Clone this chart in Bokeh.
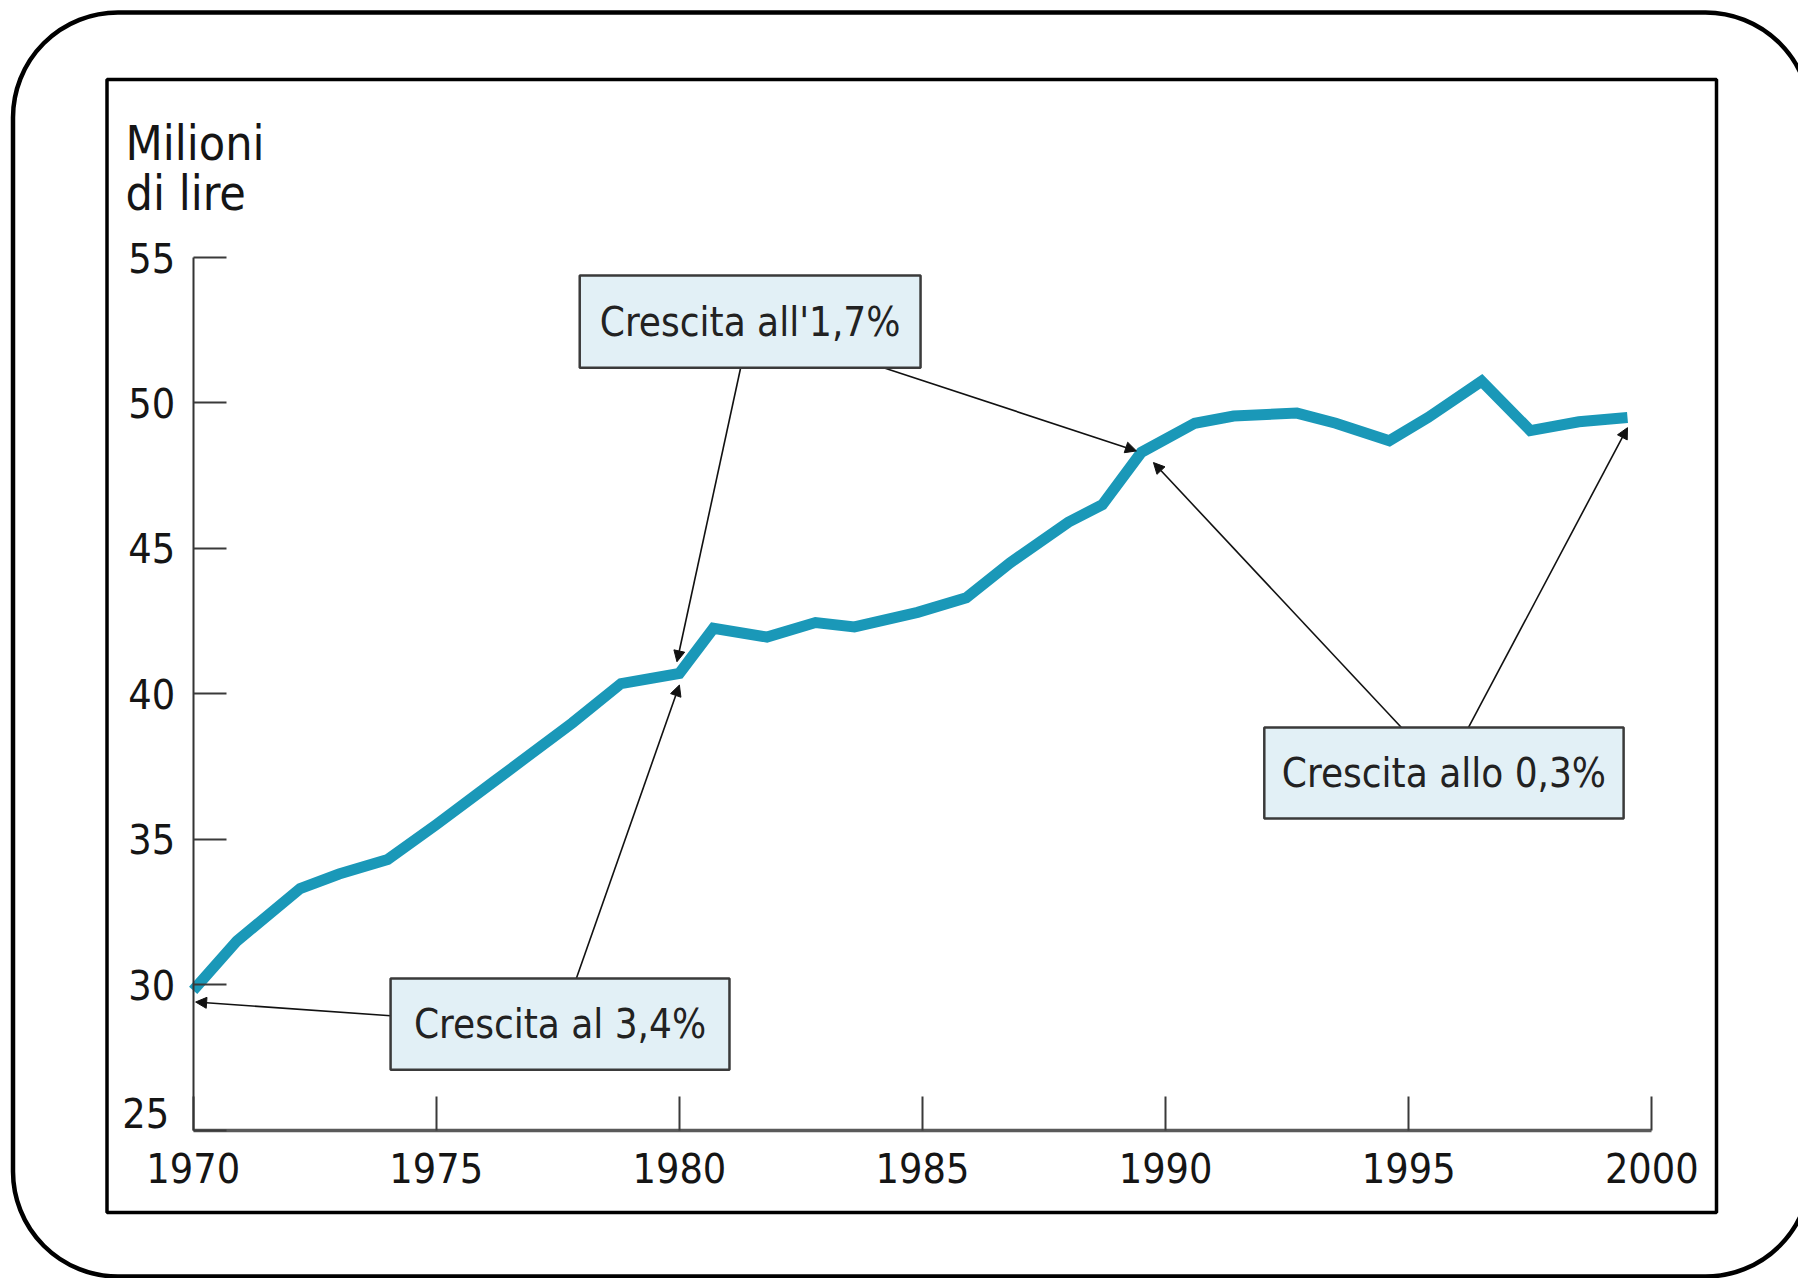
from bokeh.plotting import figure
from bokeh.models import (Range1d, BoxAnnotation, Label, Arrow, NormalHead,
                          FixedTicker, LinearAxis)
from bokeh.embed import file_html
from bokeh.resources import INLINE

# ---- data ----
years = [1970.0, 1970.9, 1972.2, 1973.0, 1974.0, 1975.0, 1976.2, 1977.8, 1978.8, 1980.0,
         1980.7, 1981.8, 1982.8, 1983.6, 1984.9, 1985.9, 1986.8, 1988.0, 1988.7, 1989.5,
         1990.6, 1991.4, 1992.7, 1993.5, 1994.6, 1995.4, 1996.5, 1997.5, 1998.5, 1999.5]
values = [29.8, 31.5, 33.3, 33.8, 34.3, 35.5, 37.0, 39.0, 40.35, 40.7,
          42.25, 41.95, 42.45, 42.3, 42.8, 43.3, 44.5, 45.9, 46.5, 48.3,
          49.3, 49.55, 49.65, 49.3, 48.7, 49.5, 50.75, 49.05, 49.35, 49.5]

x_ticks = [1970, 1975, 1980, 1985, 1990, 1995, 2000]
y_ticks = [25, 30, 35, 40, 45, 50, 55]
y_title = ["Milioni", "di lire"]

note_texts = ["Crescita all'1,7%", "Crescita al 3,4%", "Crescita allo 0,3%"]

# annotation layout (data coordinates)
note_boxes = [  # left, right, bottom, top
    (1977.95, 1984.96, 51.21, 54.38),
    (1974.06, 1981.03, 27.07, 30.21),
    (1992.03, 1999.42, 35.71, 38.84),
]
note_arrows = [  # x_start, y_start, x_end, y_end
    (1981.26, 51.21, 1979.95, 41.1),
    (1984.20, 51.21, 1989.40, 48.35),
    (1977.88, 30.21, 1980.00, 40.3),
    (1974.06, 28.93, 1970.05, 29.4),
    (1994.85, 38.84, 1989.75, 47.95),
    (1996.23, 38.84, 1999.50, 49.15),
]

FONT = "DejaVu Sans Condensed, Roboto, sans-serif"
LINE_COLOR = "#1a98b8"
W, H = 1798, 1278

# the plot frame fills the whole canvas; axes are pinned at 1970 / 25
p = figure(width=W, height=H,
           x_range=Range1d(1966.037, 2003.017), y_range=Range1d(19.894, 63.837),
           output_backend="svg", toolbar_location=None,
           min_border=0, min_border_left=0, min_border_right=0,
           min_border_top=0, min_border_bottom=0)
p.title.visible = False
p.background_fill_color = "white"
p.border_fill_color = "white"
p.outline_line_color = None
p.grid.visible = False

xa = p.xaxis[0]
ya = p.yaxis[0]
xa.fixed_location = y_ticks[0]
ya.fixed_location = x_ticks[0]
xa.bounds = (x_ticks[0], x_ticks[-1])
ya.bounds = (y_ticks[0], y_ticks[-1])
xa.ticker = FixedTicker(ticks=x_ticks)
ya.ticker = FixedTicker(ticks=y_ticks)
ya.major_label_overrides = {y_ticks[0]: ""}
for ax in (xa, ya):
    ax.major_label_text_font = FONT
    ax.major_label_text_font_size = "41px"
    ax.major_label_text_color = "#151515"
    ax.minor_tick_line_color = None
    ax.major_tick_out = 0
    ax.major_tick_line_color = "#3a3a3a"
    ax.major_tick_line_width = 2
xa.major_tick_in = 34
ya.major_tick_in = 33
xa.axis_line_color = "#5a5a5a"
xa.axis_line_width = 3.5
ya.axis_line_color = "#333333"
ya.axis_line_width = 2
xa.major_label_standoff = 23
ya.major_label_standoff = 18

# the lowest y label is lifted just above the x axis (as in the original)
LOW_LABEL_LIFT = 0.6
ya_low = LinearAxis(fixed_location=x_ticks[0],
                    ticker=FixedTicker(ticks=[y_ticks[0] + LOW_LABEL_LIFT]),
                    major_label_overrides={y_ticks[0] + LOW_LABEL_LIFT: str(y_ticks[0])},
                    axis_line_color=None, major_tick_line_color=None,
                    minor_tick_line_color=None,
                    major_label_text_font=FONT, major_label_text_font_size="41px",
                    major_label_text_color="#151515",
                    major_label_standoff=18)
p.add_layout(ya_low, "left")


def sy(row):
    """pixel row (from top) -> screen units (from bottom of frame)"""
    return H - row


# decorative frames
outer = BoxAnnotation(left=12.5, right=1810, top=sy(12), bottom=sy(1276),
                      left_units="screen", right_units="screen",
                      top_units="screen", bottom_units="screen",
                      fill_alpha=0, fill_color=None,
                      line_color="black", line_width=4.5, line_alpha=1,
                      border_radius=105, level="underlay")
inner = BoxAnnotation(left=106.5, right=1716, top=sy(79), bottom=sy(1212),
                      left_units="screen", right_units="screen",
                      top_units="screen", bottom_units="screen",
                      fill_alpha=0, fill_color=None,
                      line_color="black", line_width=3.5, line_alpha=1,
                      level="underlay")
p.add_layout(outer)
p.add_layout(inner)

# y title
for i, t in enumerate(y_title):
    p.add_layout(Label(x=125, y=sy(142 + 50 * i), x_units="screen", y_units="screen",
                       text=t, text_font=FONT, text_font_size="48px",
                       text_color="#151515", text_baseline="alphabetic"))

# data line
p.line(years, values, line_width=11, line_color=LINE_COLOR, line_join="miter")

# arrows
for xs, ys, xe, ye in note_arrows:
    p.add_layout(Arrow(x_start=xs, y_start=ys, x_end=xe, y_end=ye,
                       line_color="#111111", line_width=1.6,
                       end=NormalHead(size=11, fill_color="#111111", line_color="#111111")))

# note boxes
for (l, r, b, t), txt in zip(note_boxes, note_texts):
    p.add_layout(BoxAnnotation(left=l, right=r, bottom=b, top=t,
                               fill_color="#e2f0f6", fill_alpha=1,
                               line_color="#3a3a3a", line_width=2.5, line_alpha=1))
    p.add_layout(Label(x=(l + r) / 2, y=(b + t) / 2, text=txt,
                       text_font=FONT, text_font_size="40px", text_color="#222222",
                       text_align="center", text_baseline="middle"))

open("out.html", "w").write(file_html(p, INLINE))
